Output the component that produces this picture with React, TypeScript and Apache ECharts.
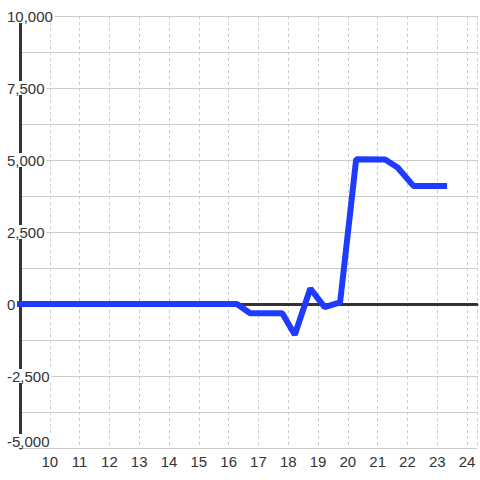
import React, { useEffect, useRef } from "react";
import * as echarts from "echarts";

const xValues = [8.89, 16.28, 16.72, 17.8, 18.22, 18.74, 19.22, 19.74, 20.28, 21.25, 21.67, 22.2, 23.33];
const yValues = [0, 0, -320, -320, -1070, 540, -110, 60, 5030, 5020, 4740, 4100, 4100];
const yTicks = [-5000, -2500, 0, 2500, 5000, 7500, 10000];
const xTicks = [10, 11, 12, 13, 14, 15, 16, 17, 18, 19, 20, 21, 22, 23, 24];

const FONT = "'Liberation Sans', Arial, sans-serif";

export default function App() {
  const ref = useRef<HTMLDivElement>(null);
  useEffect(() => {
    if (!ref.current) return;
    const chart = echarts.init(ref.current, undefined, { renderer: "svg" });
    const data = xValues.map((x, i) => [x, yValues[i]]);
    chart.setOption({
      animation: false,
      backgroundColor: "#ffffff",
      textStyle: { fontFamily: FONT },
      grid: { left: 20, right: 0, top: 16, bottom: 32, containLabel: false },
      xAxis: [
        {
          type: "value",
          min: 9,
          max: 24.3333,
          interval: 1,
          axisLine: { show: false, onZero: false },
          axisTick: { show: false },
          axisLabel: {
            showMinLabel: false,
            margin: 6,
            fontSize: 15,
            color: "#333",
            fontFamily: FONT,
            formatter: (v: number) => (xTicks.includes(v) ? String(v) : ""),
          },
          splitLine: { show: true, lineStyle: { color: "#cccccc", width: 1, type: [3, 3] } },
        },
        {
          type: "value",
          min: 9,
          max: 24.3333,
          interval: 1,
          axisLine: { show: true, onZero: true, lineStyle: { color: "#333", width: 3 } },
          axisTick: { show: false },
          axisLabel: { show: false },
          splitLine: { show: false },
        },
      ],
      yAxis: {
        type: "value",
        min: -5000,
        max: 10000,
        interval: 2500,
        axisLine: { show: true, onZero: false, lineStyle: { color: "#333", width: 3 } },
        axisTick: { show: false },
        minorTick: { show: false, splitNumber: 2 },
        minorSplitLine: { show: true, lineStyle: { color: "#cccccc", width: 1 } },
        splitLine: { show: true, lineStyle: { color: "#cccccc", width: 1 } },
        axisLabel: {
          align: "left",
          margin: 15,
          fontSize: 15,
          color: "#333",
          fontFamily: FONT,
          backgroundColor: "#ffffff",
          padding: [0, 2],
          lineHeight: 14,
          verticalAlignMinLabel: "bottom",
          formatter: (v: number) =>
            yTicks.includes(v) ? v.toLocaleString("en-US") : "",
        },
      },
      series: [
        {
          type: "line",
          xAxisIndex: 0,
          data,
          clip: false,
          showSymbol: false,
          symbol: "none",
          lineStyle: { color: "#1f3bff", width: 6 },
          z: 5,
        },
      ],
    });
    return () => chart.dispose();
  }, []);
  return <div ref={ref} style={{ width: 480, height: 480, position: "absolute", left: 0, top: 0 }} />;
}
